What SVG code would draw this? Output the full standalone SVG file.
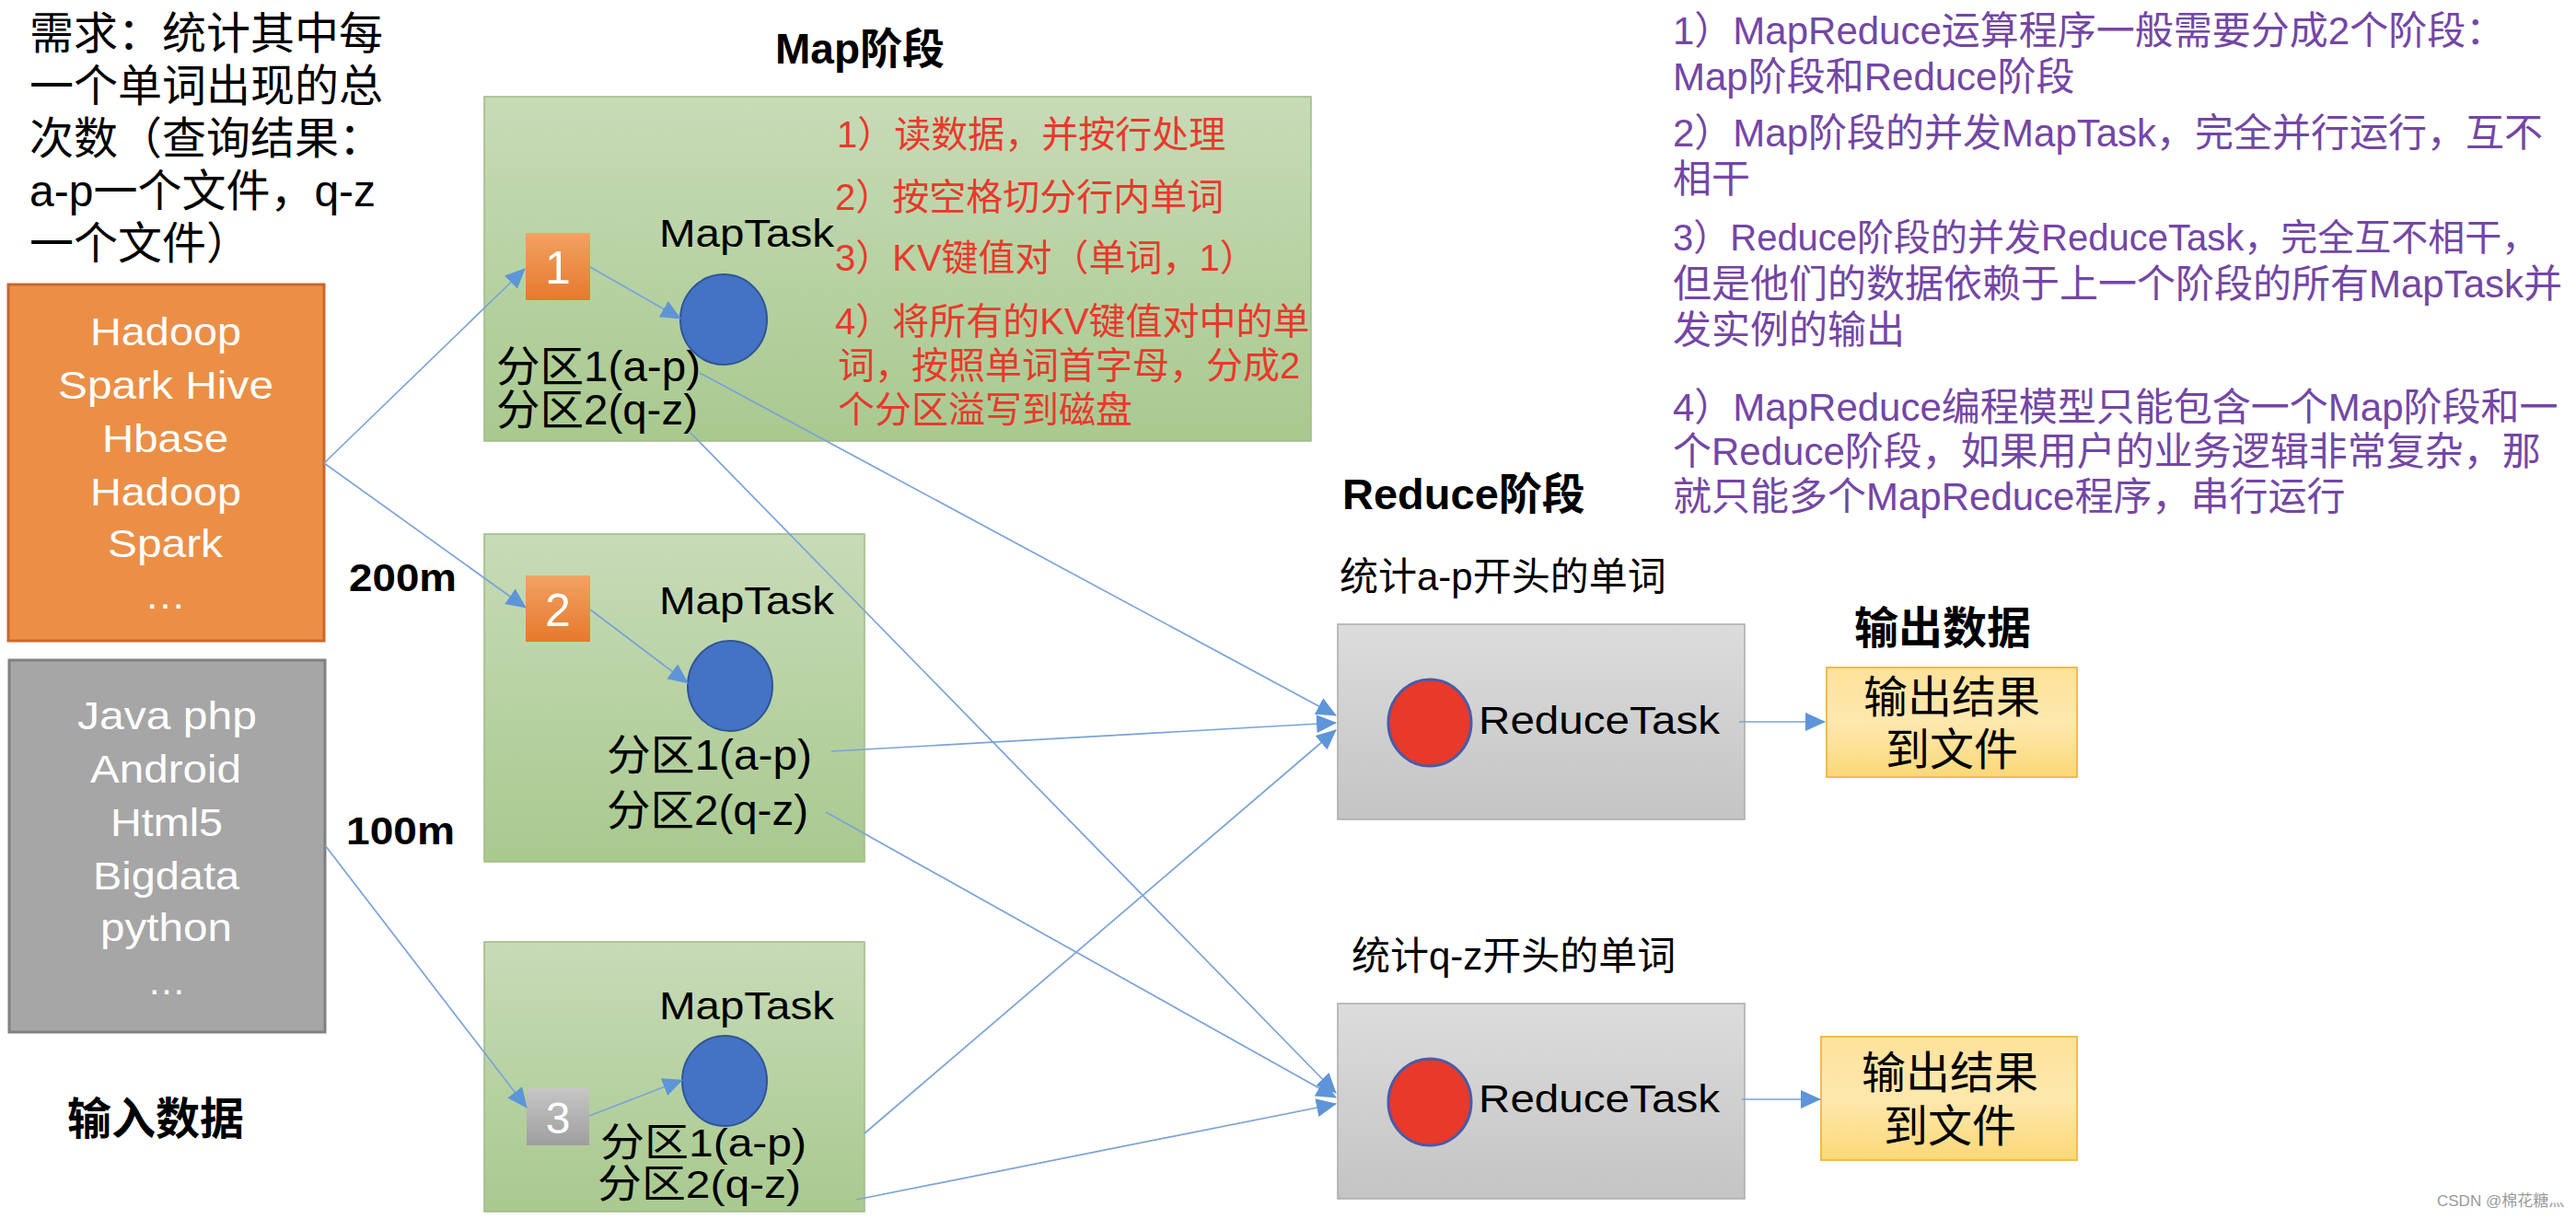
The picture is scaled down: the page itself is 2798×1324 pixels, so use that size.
<svg xmlns="http://www.w3.org/2000/svg" width="2798" height="1324" viewBox="0 0 2798 1324">
<style>
text{font-family:"Liberation Sans","Noto Sans CJK SC",sans-serif;fill:#000}
.b{font-weight:bold}
.w{fill:#fff}
.in{font-size:42px}
.lbl{font-size:42px}
.part{font-size:46px}
.red{font-size:40px;fill:#E8392B}
.pur{font-size:42px;fill:#7446A6}
.num{font-size:50px;fill:#fff}
.big{font-size:48px}
.conn line{stroke:#79A3D9;stroke-width:1.7;fill:none}
.green{fill:url(#gGreen);stroke:#9CBB84;stroke-width:1.5}
.rbox{fill:url(#gGray);stroke:#ABABAB;stroke-width:1.5}
.obox{fill:url(#gYel);stroke:#F1BB4E;stroke-width:2}
.blue{fill:#4472C4;stroke:#2F5597;stroke-width:2}
.redc{fill:#E8392A;stroke:#4A5BA8;stroke-width:3}
.sqo{fill:url(#gSqO)}
.sqg{fill:url(#gSqG)}
</style>
<defs>
<linearGradient id="gGreen" x1="0" y1="0" x2="0" y2="1"><stop offset="0" stop-color="#C7DBB7"/><stop offset="1" stop-color="#A9C98F"/></linearGradient>
<linearGradient id="gGray" x1="0" y1="0" x2="0" y2="1"><stop offset="0" stop-color="#DCDCDC"/><stop offset="1" stop-color="#C4C4C4"/></linearGradient>
<linearGradient id="gYel" x1="0" y1="0" x2="0" y2="1"><stop offset="0" stop-color="#FDE29A"/><stop offset="0.5" stop-color="#FEE8AE"/><stop offset="1" stop-color="#FBD877"/></linearGradient>
<linearGradient id="gSqO" x1="0" y1="0" x2="0" y2="1"><stop offset="0" stop-color="#F2A263"/><stop offset="1" stop-color="#E5792C"/></linearGradient>
<linearGradient id="gSqG" x1="0" y1="0" x2="0" y2="1"><stop offset="0" stop-color="#C6C6C6"/><stop offset="1" stop-color="#9E9E9E"/></linearGradient>
<marker id="arr" viewBox="0 0 22 20" markerWidth="22" markerHeight="20" refX="21" refY="10" orient="auto" markerUnits="userSpaceOnUse"><path d="M0,0 L22,10 L0,20 z" fill="#5E95D8"/></marker>
</defs>
<rect width="2798" height="1324" fill="#fff"/>

<g id="requirement">
<text class="big" x="32" y="53">需求：统计其中每</text>
<text class="big" x="32" y="110">一个单词出现的总</text>
<text class="big" x="32" y="167">次数（查询结果：</text>
<text class="big" x="32" y="224">a-p一个文件，q-z</text>
<text class="big" x="32" y="281">一个文件）</text>
</g>

<g id="input-orange">
<rect x="9" y="309" width="343" height="387" fill="#EB8F47" stroke="#C9682B" stroke-width="3"/>
<text class="in w" x="98" y="375" textLength="164" lengthAdjust="spacingAndGlyphs">Hadoop</text>
<text class="in w" x="63" y="433" textLength="234" lengthAdjust="spacingAndGlyphs">Spark Hive</text>
<text class="in w" x="111" y="491" textLength="137" lengthAdjust="spacingAndGlyphs">Hbase</text>
<text class="in w" x="98" y="549" textLength="164" lengthAdjust="spacingAndGlyphs">Hadoop</text>
<text class="in w" x="117" y="605" textLength="125" lengthAdjust="spacingAndGlyphs">Spark</text>
<text class="in w" x="157" y="661" textLength="45" lengthAdjust="spacingAndGlyphs">…</text>
</g>

<g id="input-gray">
<rect x="10" y="717" width="343" height="404" fill="#A6A6A6" stroke="#808080" stroke-width="3"/>
<text class="in w" x="84" y="792" textLength="195" lengthAdjust="spacingAndGlyphs">Java php</text>
<text class="in w" x="98" y="850" textLength="164" lengthAdjust="spacingAndGlyphs">Android</text>
<text class="in w" x="120" y="908" textLength="122" lengthAdjust="spacingAndGlyphs">Html5</text>
<text class="in w" x="101" y="966" textLength="159" lengthAdjust="spacingAndGlyphs">Bigdata</text>
<text class="in w" x="109" y="1022" textLength="143" lengthAdjust="spacingAndGlyphs">python</text>
<text class="in w" x="160" y="1080" textLength="42" lengthAdjust="spacingAndGlyphs">…</text>
</g>

<g id="input-label"><text class="big b" x="73" y="1232">输入数据</text></g>
<g id="size-labels">
<text class="lbl b" x="571" y="221" textLength="118" lengthAdjust="spacingAndGlyphs">128m</text>
<text class="lbl b" x="379" y="642" textLength="117" lengthAdjust="spacingAndGlyphs">200m</text>
<text class="lbl b" x="376" y="917" textLength="118" lengthAdjust="spacingAndGlyphs">100m</text>
<text class="lbl b" x="551" y="750" textLength="92" lengthAdjust="spacingAndGlyphs">72m</text>
</g>

<g id="map-title"><text class="b" x="842" y="69" style="font-size:46px">Map阶段</text></g>

<g id="map1">
<rect class="green" x="526" y="105" width="898" height="374"/>
<rect class="sqo" x="571" y="253" width="70" height="73"/>
<text class="num" x="606" y="308" text-anchor="middle">1</text>
<ellipse class="blue" cx="786" cy="347" rx="47" ry="49"/>
<text class="lbl" x="716" y="268" textLength="190" lengthAdjust="spacingAndGlyphs">MapTask</text>
<text class="part" x="539" y="414" textLength="222" lengthAdjust="spacingAndGlyphs">分区1(a-p)</text>
<text class="part" x="539" y="461" textLength="219" lengthAdjust="spacingAndGlyphs">分区2(q-z)</text>
<text class="red" x="909" y="160">1）读数据，并按行处理</text>
<text class="red" x="907" y="228">2）按空格切分行内单词</text>
<text class="red" x="907" y="294">3）KV键值对（单词，1）</text>
<text class="red" x="907" y="363">4）将所有的KV键值对中的单</text>
<text class="red" x="910" y="411">词，按照单词首字母，分成2</text>
<text class="red" x="910" y="459">个分区溢写到磁盘</text>
</g>

<g id="map2">
<rect class="green" x="526" y="580" width="413" height="356"/>
<rect class="sqo" x="571" y="625" width="70" height="72"/>
<text class="num" x="606" y="680" text-anchor="middle">2</text>
<ellipse class="blue" cx="793" cy="745" rx="46" ry="49"/>
<text class="lbl" x="716" y="667" textLength="190" lengthAdjust="spacingAndGlyphs">MapTask</text>
<text class="part" x="659" y="836" textLength="223" lengthAdjust="spacingAndGlyphs">分区1(a-p)</text>
<text class="part" x="659" y="896" textLength="219" lengthAdjust="spacingAndGlyphs">分区2(q-z)</text>
</g>

<g id="map3">
<rect class="green" x="526" y="1023" width="413" height="293"/>
<rect class="sqg" x="572" y="1182" width="68" height="62"/>
<text class="num" x="606" y="1231" text-anchor="middle" style="font-size:48px">3</text>
<ellipse class="blue" cx="787" cy="1174" rx="46" ry="49"/>
<text class="lbl" x="716" y="1107" textLength="190" lengthAdjust="spacingAndGlyphs">MapTask</text>
<text class="part" x="652" y="1256" textLength="224" lengthAdjust="spacingAndGlyphs" style="font-size:43px">分区1(a-p)</text>
<text class="part" x="649" y="1301" textLength="221" lengthAdjust="spacingAndGlyphs" style="font-size:43px">分区2(q-z)</text>
</g>

<g id="reduce-title"><text class="b" x="1458" y="553" style="font-size:47px">Reduce阶段</text></g>

<g id="reduce1">
<text x="1455" y="641" style="font-size:42px">统计a-p开头的单词</text>
<rect class="rbox" x="1453" y="678" width="442" height="212"/>
<ellipse class="redc" cx="1553" cy="785" rx="45" ry="47"/>
<text class="lbl" x="1606" y="797" textLength="262" lengthAdjust="spacingAndGlyphs">ReduceTask</text>
</g>

<g id="reduce2">
<text x="1468" y="1053" style="font-size:42px">统计q-z开头的单词</text>
<rect class="rbox" x="1453" y="1090" width="442" height="212"/>
<ellipse class="redc" cx="1553" cy="1197" rx="45" ry="47"/>
<text class="lbl" x="1606" y="1208" textLength="262" lengthAdjust="spacingAndGlyphs">ReduceTask</text>
</g>

<g id="output-title"><text class="big b" x="2014" y="699">输出数据</text></g>

<g id="output1">
<rect class="obox" x="1984" y="725" width="272" height="119"/>
<text class="big" x="2120" y="774" text-anchor="middle">输出结果</text>
<text class="big" x="2120" y="831" text-anchor="middle">到文件</text>
</g>

<g id="output2">
<rect class="obox" x="1978" y="1126" width="278" height="134"/>
<text class="big" x="2118" y="1182" text-anchor="middle">输出结果</text>
<text class="big" x="2118" y="1240" text-anchor="middle">到文件</text>
</g>

<g id="notes">
<text class="pur" x="1817" y="48">1）MapReduce运算程序一般需要分成2个阶段：</text>
<text class="pur" x="1817" y="98">Map阶段和Reduce阶段</text>
<text class="pur" x="1817" y="159">2）Map阶段的并发MapTask，完全并行运行，互不</text>
<text class="pur" x="1817" y="209">相干</text>
<text class="pur" x="1817" y="272" style="font-size:40px">3）Reduce阶段的并发ReduceTask，完全互不相干，</text>
<text class="pur" x="1817" y="323">但是他们的数据依赖于上一个阶段的所有MapTask并</text>
<text class="pur" x="1817" y="373">发实例的输出</text>
<text class="pur" x="1817" y="457">4）MapReduce编程模型只能包含一个Map阶段和一</text>
<text class="pur" x="1817" y="505">个Reduce阶段，如果用户的业务逻辑非常复杂，那</text>
<text class="pur" x="1817" y="554">就只能多个MapReduce程序，串行运行</text>
</g>

<g id="connectors" class="conn">
<line x1="352" y1="503" x2="570" y2="292" marker-end="url(#arr)"/>
<line x1="352" y1="503" x2="571" y2="660" marker-end="url(#arr)"/>
<line x1="353" y1="918" x2="572" y2="1203" marker-end="url(#arr)"/>
<line x1="641" y1="290" x2="739" y2="346" marker-end="url(#arr)"/>
<line x1="641" y1="662" x2="747" y2="742" marker-end="url(#arr)"/>
<line x1="640" y1="1212" x2="741" y2="1173" marker-end="url(#arr)"/>
<line x1="760" y1="405" x2="1451" y2="777" marker-end="url(#arr)"/>
<line x1="750" y1="470" x2="1451" y2="1187" marker-end="url(#arr)"/>
<line x1="903" y1="816" x2="1451" y2="785" marker-end="url(#arr)"/>
<line x1="897" y1="882" x2="1451" y2="1192" marker-end="url(#arr)"/>
<line x1="939" y1="1231" x2="1451" y2="793" marker-end="url(#arr)"/>
<line x1="930" y1="1303" x2="1451" y2="1199" marker-end="url(#arr)"/>
<line x1="1889" y1="784" x2="1982" y2="784" marker-end="url(#arr)"/>
<line x1="1892" y1="1194" x2="1977" y2="1194" marker-end="url(#arr)"/>
</g>

<g id="watermark"><text x="2647" y="1310" style="font-size:17px;fill:#9A9A9A">CSDN @棉花糖灬</text></g>
</svg>
